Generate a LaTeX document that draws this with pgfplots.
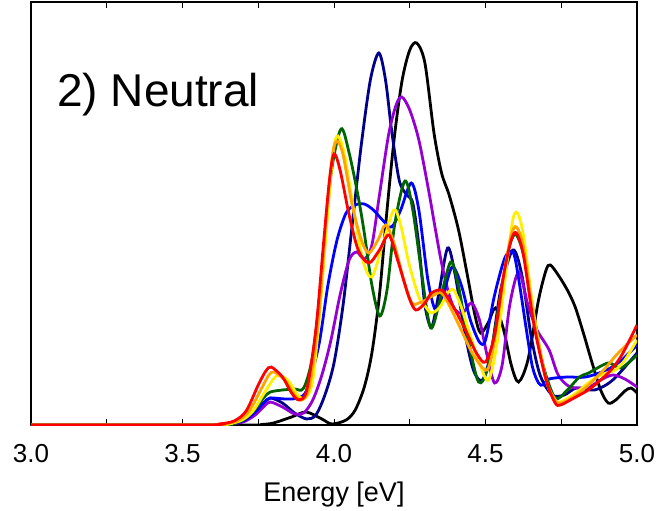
\documentclass[border=0pt]{standalone}
\usepackage{fontspec}
\setmainfont{Liberation Sans}
\usepackage{pgfplots}
\pgfplotsset{compat=1.18}
\definecolor{cnavy}{RGB}{0,0,139}
\definecolor{cblue}{RGB}{0,0,255}
\definecolor{cpurple}{RGB}{148,0,211}
\definecolor{cgreen}{RGB}{0,100,0}
\definecolor{cyellow}{RGB}{255,240,0}
\definecolor{corange}{RGB}{255,165,0}
\definecolor{cred}{RGB}{255,0,0}
\begin{document}
\begin{tikzpicture}
\begin{axis}[
  at={(0,0)}, anchor=south west,
  scale only axis, width=606pt, height=423pt,
  xmin=3, xmax=5, ymin=0, ymax=423,
  xtick={3,3.5,4,4.5,5},
  minor xtick={3.25,3.75,4.25,4.75},
  xticklabels={3.0,3.5,4.0,4.5,5.0},
  ytick=\empty,
  xtick pos=both,
  tick align=inside,
  major tick length=6pt, minor tick length=6pt,
  tick style={line width=1pt, black},
  axis line style={line width=1.3pt},
  /pgf/number format/assume math mode=true,
  xticklabel style={font=\fontsize{26}{30}\selectfont, yshift=-16pt},
  xlabel={Energy [eV]},
  xlabel style={font=\fontsize{27}{32}\selectfont, yshift=-12pt},
  clip=true,
  every axis plot/.append style={line width=2.8pt, smooth, tension=0.5, no marks},
]
% black
\addplot[black] coordinates {(3.0,0)(3.70,0)(3.76,0.5)(3.80,2)(3.86,8)(3.908,13)(3.96,6)(3.993,1)(4.04,5)(4.07,15)(4.10,38)(4.125,72)(4.15,130)(4.175,215)(4.20,290)(4.225,345)(4.25,375)(4.273,382)(4.30,362)(4.33,292)(4.355,252)(4.38,230)(4.411,195)(4.44,150)(4.465,110)(4.484,92)(4.51,103)(4.533,117)(4.56,95)(4.585,60)(4.609,43)(4.64,65)(4.675,125)(4.70,155)(4.714,160)(4.74,150)(4.77,135)(4.796,118)(4.825,90)(4.849,65)(4.88,35)(4.905,22)(4.93,25)(4.96,34)(4.98,37)(5.0,32)};
% navy
\addplot[cnavy] coordinates {(3.0,0)(3.60,0)(3.65,1)(3.70,4)(3.74,12)(3.77,22)(3.79,27)(3.83,22)(3.87,12)(3.91,6)(3.94,10)(3.97,30)(4.0,62)(4.03,120)(4.06,200)(4.09,280)(4.12,345)(4.148,372)(4.17,345)(4.19,295)(4.215,245)(4.24,230)(4.26,222)(4.28,180)(4.30,120)(4.322,98)(4.345,130)(4.375,177)(4.40,150)(4.43,95)(4.46,55)(4.49,45)(4.52,75)(4.55,135)(4.59,175)(4.62,150)(4.65,90)(4.68,50)(4.72,30)(4.76,30)(4.80,37)(4.86,35)(4.92,45)(5.0,72)};
% purple
\addplot[cpurple] coordinates {(3.0,0)(3.60,0)(3.65,1)(3.70,3)(3.74,10)(3.77,19)(3.79,23)(3.83,18)(3.87,11)(3.90,12)(3.93,25)(3.96,50)(3.99,85)(4.02,130)(4.05,165)(4.075,173)(4.10,166)(4.125,180)(4.15,230)(4.18,290)(4.205,320)(4.224,328)(4.25,315)(4.28,285)(4.312,235)(4.335,195)(4.355,162)(4.38,130)(4.40,115)(4.425,112)(4.454,122)(4.48,105)(4.505,70)(4.53,42)(4.555,60)(4.58,120)(4.61,153)(4.64,120)(4.67,95)(4.71,75)(4.74,50)(4.78,38)(4.84,38)(4.88,45)(4.92,50)(4.96,46)(5.0,38)};
% blue
\addplot[cblue] coordinates {(3.0,0)(3.60,0)(3.65,1)(3.70,4)(3.74,13)(3.77,23)(3.79,27)(3.84,26)(3.88,27)(3.91,35)(3.95,80)(3.98,140)(4.01,185)(4.04,212)(4.07,220)(4.10,221)(4.13,215)(4.16,205)(4.19,198)(4.22,215)(4.255,242)(4.28,215)(4.31,145)(4.335,115)(4.36,130)(4.39,158)(4.42,140)(4.45,105)(4.48,83)(4.50,85)(4.53,130)(4.565,168)(4.592,172)(4.61,145)(4.635,95)(4.655,58)(4.675,42)(4.69,40)(4.71,46)(4.77,48)(4.83,48)(4.90,55)(4.95,65)(5.0,80)};
% green
\addplot[cgreen] coordinates {(3.0,0)(3.60,0)(3.65,1)(3.70,5)(3.74,16)(3.77,28)(3.79,33)(3.83,35)(3.87,36)(3.90,37)(3.93,70)(3.96,150)(3.99,250)(4.023,296)(4.05,272)(4.08,228)(4.10,192)(4.125,140)(4.151,109)(4.175,135)(4.20,200)(4.234,244)(4.26,215)(4.29,150)(4.319,97)(4.35,125)(4.385,163)(4.41,140)(4.44,90)(4.477,43)(4.51,60)(4.55,130)(4.58,180)(4.602,190)(4.63,165)(4.66,110)(4.69,60)(4.73,27)(4.77,35)(4.81,48)(4.84,52)(4.905,62)(4.947,57)(5.0,70)};
% yellow
\addplot[cyellow] coordinates {(3.0,0)(3.59,0)(3.64,1)(3.69,4)(3.73,13)(3.77,32)(3.80,46)(3.819,50)(3.85,44)(3.88,30)(3.905,27)(3.93,45)(3.955,120)(3.98,215)(3.998,275)(4.013,289)(4.035,270)(4.065,215)(4.095,165)(4.125,148)(4.16,180)(4.197,215)(4.22,200)(4.247,162)(4.28,128)(4.303,118)(4.322,112)(4.35,118)(4.375,132)(4.395,135)(4.42,118)(4.444,95)(4.48,62)(4.51,45)(4.54,85)(4.57,160)(4.59,205)(4.605,212)(4.625,190)(4.66,110)(4.70,45)(4.73,25)(4.747,23)(4.79,30)(4.839,42)(4.88,50)(4.928,55)(4.96,65)(5.0,85)};
% orange
\addplot[corange] coordinates {(3.0,0)(3.58,0)(3.63,1)(3.68,4)(3.72,14)(3.76,36)(3.785,50)(3.803,53)(3.84,44)(3.87,30)(3.895,25)(3.92,40)(3.95,110)(3.975,210)(3.995,270)(4.01,284)(4.03,270)(4.06,220)(4.09,185)(4.115,172)(4.145,185)(4.171,200)(4.20,180)(4.23,145)(4.257,122)(4.28,122)(4.303,125)(4.33,130)(4.355,132)(4.38,120)(4.42,95)(4.46,70)(4.505,55)(4.53,85)(4.56,150)(4.585,190)(4.602,198)(4.625,178)(4.66,105)(4.70,45)(4.73,25)(4.75,22)(4.79,28)(4.84,40)(4.89,55)(4.938,72)(5.0,90)};
% red
\addplot[cred] coordinates {(3.0,0)(3.57,0)(3.62,1)(3.67,4)(3.71,14)(3.75,40)(3.775,54)(3.793,58)(3.83,48)(3.86,32)(3.885,25)(3.91,35)(3.94,95)(3.965,180)(3.985,245)(4.0,271)(4.02,255)(4.05,210)(4.08,175)(4.115,162)(4.15,175)(4.181,190)(4.21,165)(4.247,128)(4.27,115)(4.30,122)(4.322,132)(4.355,135)(4.38,125)(4.40,115)(4.434,95)(4.47,72)(4.50,63)(4.53,90)(4.56,150)(4.585,185)(4.602,192)(4.625,170)(4.66,100)(4.70,45)(4.73,22)(4.747,20)(4.78,25)(4.839,35)(4.88,45)(4.914,55)(4.95,70)(5.0,100)};
\node[anchor=base west, inner sep=0pt, font=\fontsize{46}{52}\selectfont] at (rel axis cs:0.0429,0.7525) {2) Neutral};
\end{axis}
\path (-31pt,-84pt) rectangle (635pt,425pt);
\end{tikzpicture}
\end{document}
